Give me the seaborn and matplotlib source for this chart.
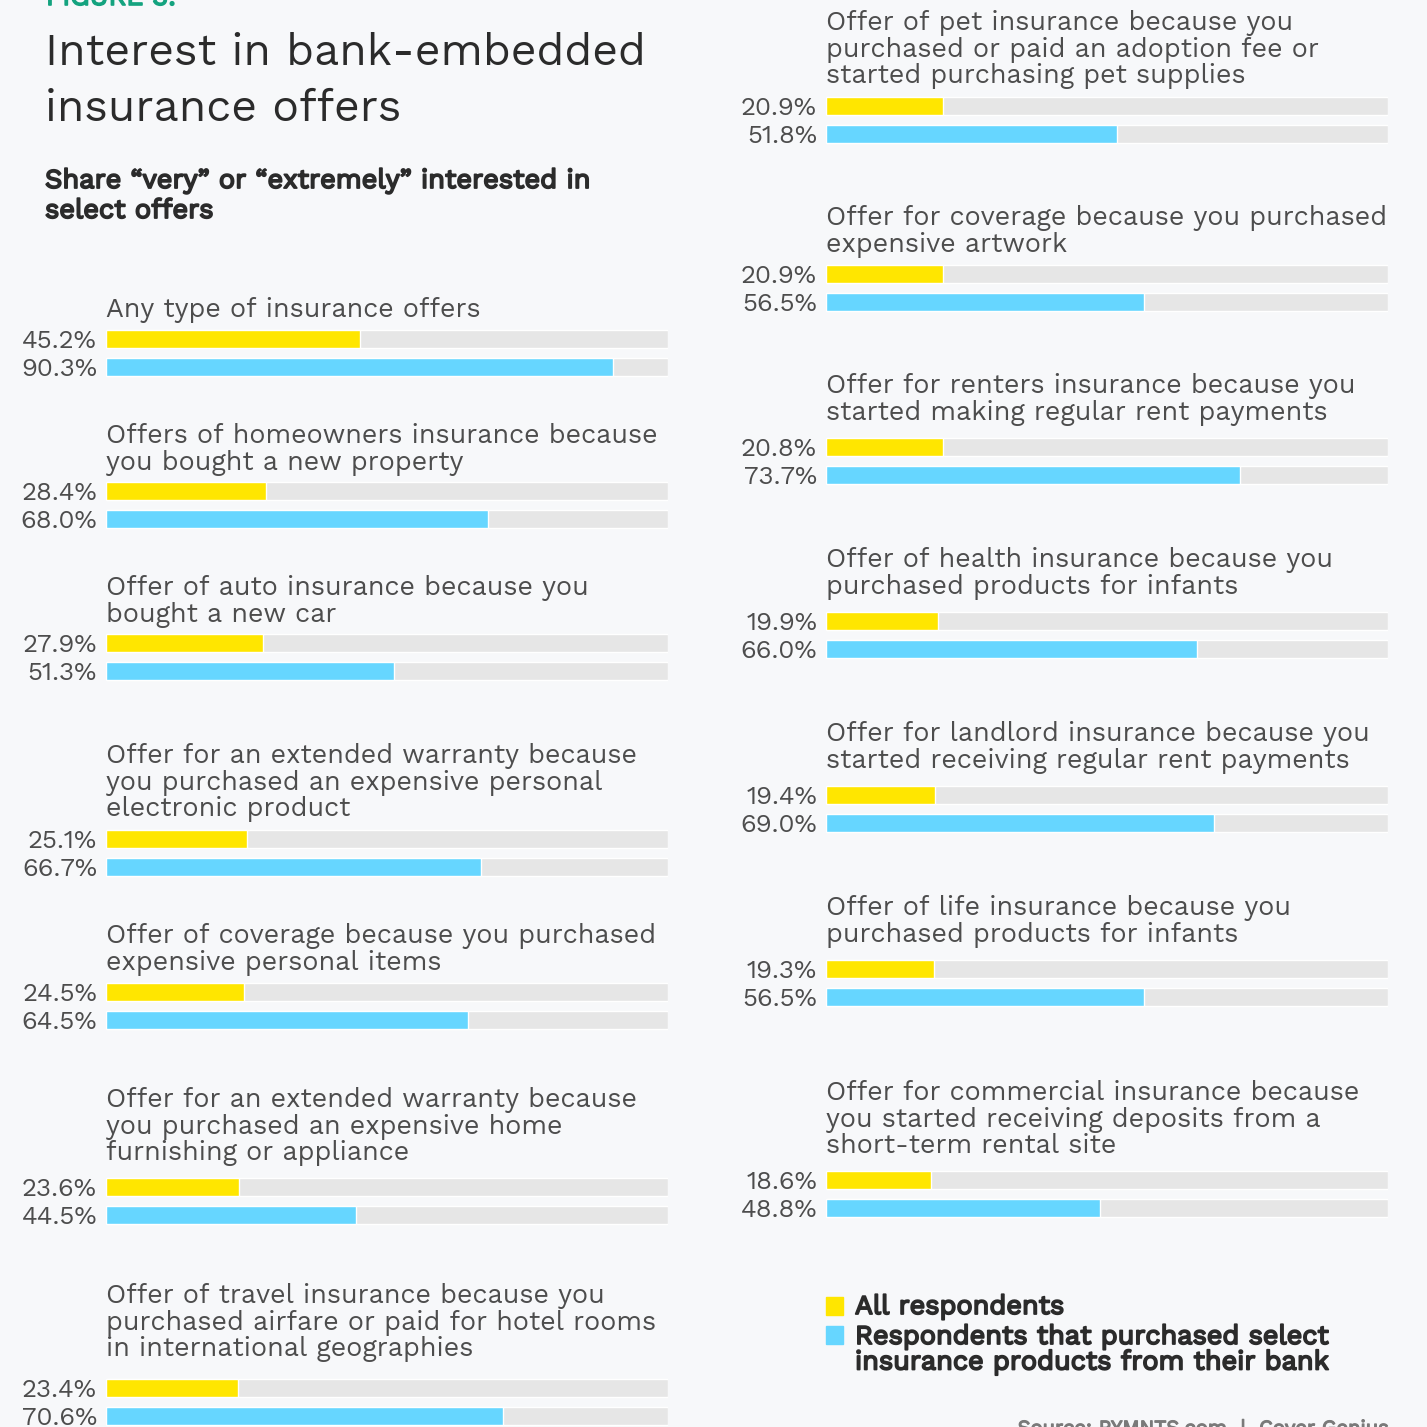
import matplotlib
matplotlib.use("Agg")
import matplotlib.pyplot as plt
from matplotlib.patches import Rectangle
from matplotlib import font_manager
import matplotlib.patheffects as pe
import seaborn as sns
import pandas as pd

# ---------------- data ----------------
left_labels = [
    "Any type of insurance offers",
    "Offers of homeowners insurance because\nyou bought a new property",
    "Offer of auto insurance because you\nbought a new car",
    "Offer for an extended warranty because\nyou purchased an expensive personal\nelectronic product",
    "Offer of coverage because you purchased\nexpensive personal items",
    "Offer for an extended warranty because\nyou purchased an expensive home\nfurnishing or appliance",
    "Offer of travel insurance because you\npurchased airfare or paid for hotel rooms\nin international geographies",
]
left_all = [45.2, 28.4, 27.9, 25.1, 24.5, 23.6, 23.4]
left_bank = [90.3, 68.0, 51.3, 66.7, 64.5, 44.5, 70.6]

right_labels = [
    "Offer of pet insurance because you\npurchased or paid an adoption fee or\nstarted purchasing pet supplies",
    "Offer for coverage because you purchased\nexpensive artwork",
    "Offer for renters insurance because you\nstarted making regular rent payments",
    "Offer of health insurance because you\npurchased products for infants",
    "Offer for landlord insurance because you\nstarted receiving regular rent payments",
    "Offer of life insurance because you\npurchased products for infants",
    "Offer for commercial insurance because\nyou started receiving deposits from a\nshort-term rental site",
]
right_all = [20.9, 20.9, 20.8, 19.9, 19.4, 19.3, 18.6]
right_bank = [51.8, 56.5, 73.7, 66.0, 69.0, 56.5, 48.8]

series_names = ["All respondents",
                "Respondents that purchased select\ninsurance products from their bank"]
title_text = "Interest in bank-embedded\ninsurance offers"
subtitle_text = "Share \u201cvery\u201d or \u201cextremely\u201d interested in\nselect offers"
figure_tag = "FIGURE 3:"
source_text = "Source: PYMNTS.com  |  Cover Genius"

# ---------------- style / layout ----------------
W = H = 1427
DPI = 100
BG = "#f7f8fa"
YELLOW = "#ffe600"
BLUE = "#66d6ff"
TRACK = "#e6e6e6"
TXT = "#4d4d4d"
DARK = "#2b2b2b"
GREEN = "#14a37f"
SRC_COL = "#7a7a7a"

entries = font_manager.fontManager.ttflist
available = {f.name for f in entries}


def pick(*cands):
    for c in cands:
        if c in available:
            return c
    return "DejaVu Sans"


WORK = pick("Work Sans", "IBM Plex Sans", "Open Sans")
work_has_bold = any(f.name == WORK and int(f.weight) >= 650 for f in entries
                    if str(f.weight).isdigit())


def bold_kw(color, lw=1.3):
    """Bold Work Sans if present, otherwise a stroked (faux-bold) Work Sans."""
    if work_has_bold:
        return dict(family=WORK, weight="bold", color=color)
    return dict(family=WORK, color=color,
                path_effects=[pe.withStroke(linewidth=lw, foreground=color)])


sns.set_theme(style="white")
plt.rcParams["font.family"] = ["DejaVu Sans"]

panels = [
    dict(labels=left_labels, a=left_all, b=left_bank, x0=106, x1=668,
         ybar=[339, 491, 643, 839, 992, 1187, 1388],
         ylab=[308, 434, 586, 754, 934, 1098, 1294]),
    dict(labels=right_labels, a=right_all, b=right_bank, x0=826, x1=1388,
         ybar=[106, 274, 447, 621, 795, 969, 1180],
         ylab=[21, 216, 384, 558, 732, 906, 1091]),
]
STEP = 28        # px between the two bars of a group
LINE_H = 26.7    # px between label lines


def fx(x):
    return x / W


def fy(y):
    return 1 - y / H


fig = plt.figure(figsize=(W / DPI, H / DPI), dpi=DPI, facecolor=BG)
renderer = fig.canvas.get_renderer()


def fit_size(sample, target_px, **kw):
    """font size (pt) so that `sample` is about target_px wide"""
    kw = {k: v for k, v in kw.items() if k != "path_effects"}
    t = fig.text(0, 0, sample, fontsize=20, **kw)
    w = t.get_window_extent(renderer).width
    t.remove()
    return 20 * target_px / w


S_LAB = fit_size("Any type of insurance offers", 376, family=WORK)
S_PCT = fit_size("45.2%", 75, family=WORK)
S_TITLE = fit_size("Interest in bank-embedded", 601, family=WORK)
S_SUB = fit_size("Share \u201cvery\u201d or \u201cextremely\u201d interested in",
                 546, **bold_kw(DARK))
S_LEG = fit_size("Respondents that purchased select", 474, **bold_kw(DARK))
S_SRC = fit_size(source_text, 371, **bold_kw(SRC_COL))
S_TAG = fit_size(figure_tag, 130, **bold_kw(GREEN))

for p in panels:
    for lab, a, b, yc, yl in zip(p["labels"], p["a"], p["b"], p["ybar"], p["ylab"]):
        ax = fig.add_axes([fx(p["x0"]), fy(yc + STEP + STEP / 2),
                           (p["x1"] - p["x0"]) / W, 2 * STEP / H])
        ax.set_facecolor("none")
        df = pd.DataFrame({"series": series_names, "value": [a, b], "full": [100, 100]})
        sns.barplot(data=df, x="full", y="series", color=TRACK, width=0.64,
                    saturation=1, ax=ax)
        sns.barplot(data=df, x="value", y="series", hue="series",
                    palette=[YELLOW, BLUE], width=0.64, saturation=1,
                    legend=False, ax=ax)
        ax.set_xlim(0, 100)
        ax.set_ylim(1.5, -0.5)
        ax.axis("off")
        for i, v in enumerate([a, b]):
            ax.annotate(f"{v:.1f}%", xy=(0, i), xycoords="data",
                        xytext=(-9, -9), textcoords="offset pixels",
                        ha="right", va="baseline", fontsize=S_PCT,
                        family=WORK, color=TXT, annotation_clip=False)
        for k, line in enumerate(lab.split("\n")):
            fig.text(fx(p["x0"]), fy(yl + 9 + k * LINE_H), line,
                     ha="left", va="baseline", fontsize=S_LAB,
                     family=WORK, color=TXT)

# header
fig.text(fx(46), fy(5), figure_tag, ha="left", va="baseline", fontsize=S_TAG,
         **bold_kw(GREEN, 1.2))
for k, line in enumerate(title_text.split("\n")):
    fig.text(fx(45), fy(65 + k * 56), line, ha="left", va="baseline",
             fontsize=S_TITLE, family=WORK, color=DARK)
for k, line in enumerate(subtitle_text.split("\n")):
    fig.text(fx(45), fy(188 + k * 30), line, ha="left", va="baseline",
             fontsize=S_SUB, **bold_kw(DARK))

# legend
for col, ysq in [(YELLOW, 1297), (BLUE, 1326)]:
    fig.patches.append(Rectangle((fx(826), fy(ysq + 18)), 17 / W, 18 / H,
                                 transform=fig.transFigure, color=col))
fig.text(fx(855), fy(1314), series_names[0], ha="left", va="baseline",
         fontsize=S_LEG, **bold_kw(DARK))
for k, line in enumerate(series_names[1].split("\n")):
    fig.text(fx(855), fy(1344 + k * 25.5), line, ha="left", va="baseline",
             fontsize=S_LEG, **bold_kw(DARK))

fig.text(fx(1388), fy(1434), source_text, ha="right", va="baseline",
         fontsize=S_SRC, **bold_kw(SRC_COL, 0.9))

fig.savefig("out.png", dpi=DPI, facecolor=BG)
